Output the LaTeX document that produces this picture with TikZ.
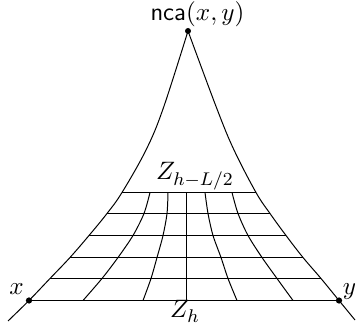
\documentclass[tikz,border=0pt]{standalone}
\begin{document}
\begin{tikzpicture}[x=0.4348pt,y=-0.4348pt,
  lbl/.style={anchor=base,inner sep=0pt,font=\fontsize{11pt}{13pt}\selectfont},
  gridline/.style={line width=0.43pt},
  dotfill/.style={fill=black}]
\useasboundingbox (0,0) rectangle (357,329);
% key points
\coordinate (apex) at (188,31);
\coordinate (px) at (29,300.5);
\coordinate (py) at (339,300.5);
% boundary curves
\draw[gridline] plot[smooth,tension=0.6] coordinates {(188,31) (163,109) (146,150) (122,192.5) (107,213.5) (89,235.5) (70,257.5) (50,278.5) (29,300.5) (8,321)};
\draw[gridline] plot[smooth,tension=0.6] coordinates {(188,31) (217,109) (234,150) (256,192.5) (270,213.5) (286,235.5) (303,257.5) (321,278.5) (339,300.5) (355,320)};
% horizontal lines
\coordinate (l0) at (122,192.5); \coordinate (r0) at (256,192.5);
\coordinate (l1) at (107,213.5); \coordinate (r1) at (270,213.5);
\coordinate (l2) at (89,235.5); \coordinate (r2) at (286,235.5);
\coordinate (l3) at (70,257.5); \coordinate (r3) at (303,257.5);
\coordinate (l4) at (50,278.5); \coordinate (r4) at (321,278.5);
\draw[gridline] (l0) -- (r0);
\draw[gridline] (l1) -- (r1);
\draw[gridline] (l2) -- (r2);
\draw[gridline] (l3) -- (r3);
\draw[gridline] (l4) -- (r4);
\draw[gridline] (px) -- (py);
% vertical curved lines
\draw[gridline] plot[smooth] coordinates {(150,192.5) (144,213.5) (133,235.5) (118,257.5) (102,278.5) (83,300.5)};
\draw[gridline] plot[smooth] coordinates {(168,192.5) (167,213.5) (163,235.5) (157,257.5) (151,278.5) (143,300.5)};
\coordinate (mt) at (186.5,192.5); \coordinate (mb) at (186.5,300.5);
\draw[gridline] (mt) -- (mb);
\draw[gridline] plot[smooth] coordinates {(205,192.5) (208,213.5) (213,235.5) (221,257.5) (228,278.5) (237,300.5)};
\draw[gridline] plot[smooth] coordinates {(232,192.5) (238,213.5) (248,235.5) (262,257.5) (277,278.5) (293,300.5)};
% dots
\fill[dotfill] (apex) circle (1.3pt);
\fill[dotfill] (px) circle (1.35pt);
\fill[dotfill] (py) circle (1.35pt);
% labels
\node[lbl] (nca) at (197.5,20.5) {\textsf{nca}$(x,y)$};
\node[lbl] (ztop) at (195,180) {$Z_{h-L/2}$};
\node[lbl] (zbot) at (185,318) {$Z_h$};
\node[lbl] (lx) at (16.5,295) {$x$};
\node[lbl] (ly) at (349.5,295) {$y$};
\end{tikzpicture}
\end{document}
